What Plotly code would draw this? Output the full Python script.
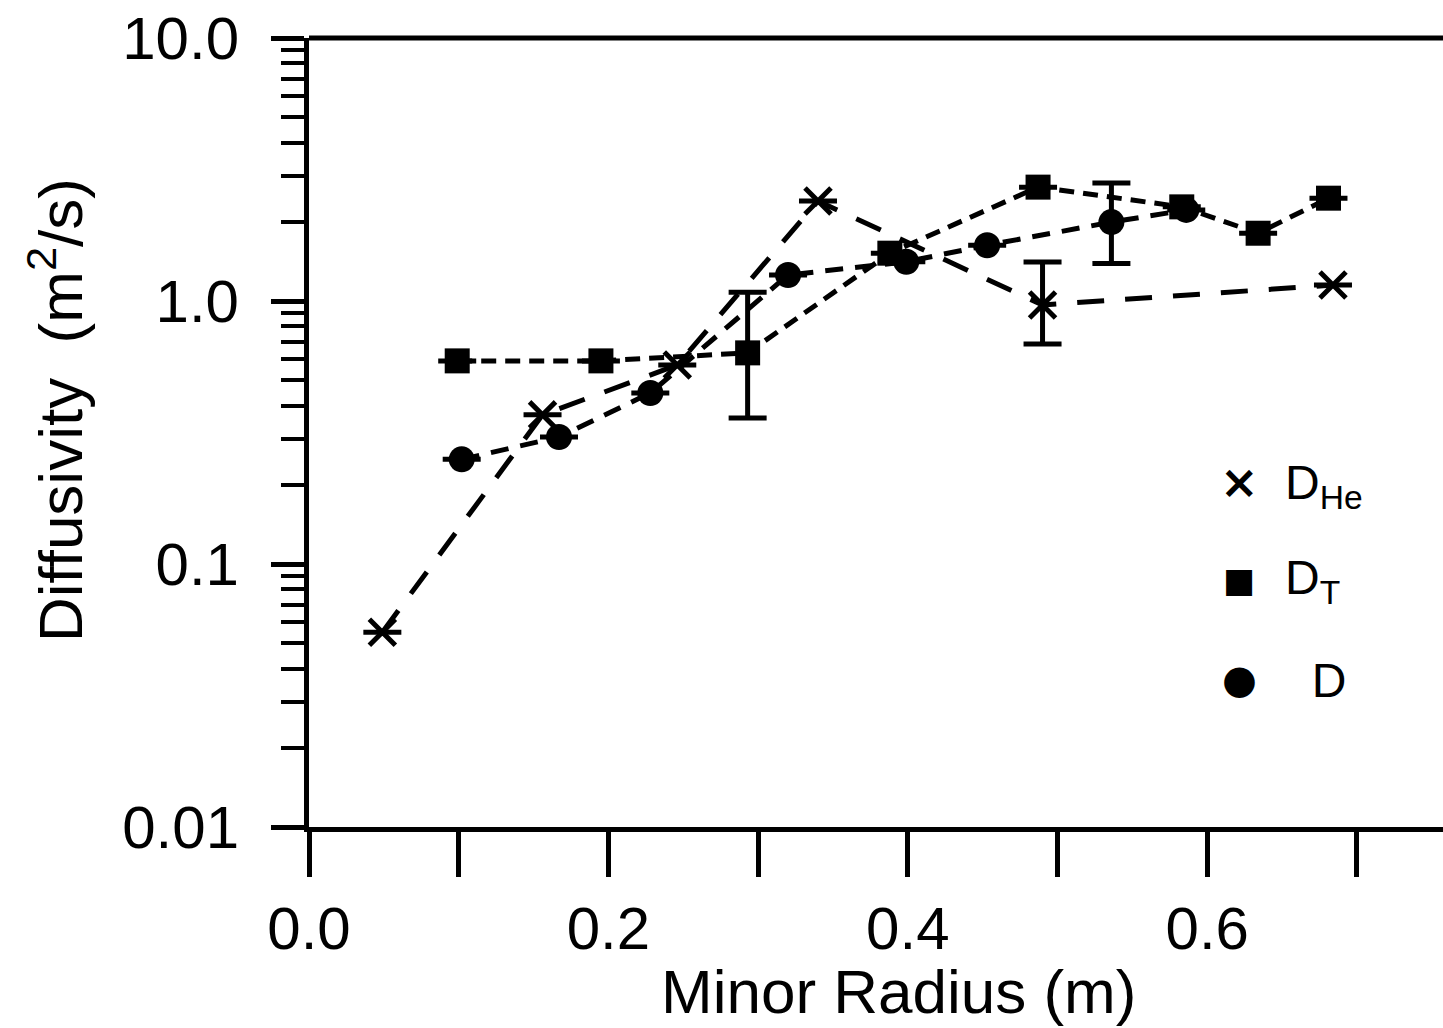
import plotly.graph_objects as go

# ---- data ----
he_r = [0.049, 0.156, 0.246, 0.340, 0.490, 0.684]
he_d = [0.055, 0.369, 0.571, 2.40, 0.966, 1.15]
he_err_plus = [None, None, None, None, 0.44, None]
he_err_minus = [None, None, None, None, 0.28, None]

t_r = [0.099, 0.195, 0.293, 0.388, 0.487, 0.583, 0.634, 0.681]
t_d = [0.592, 0.592, 0.635, 1.52, 2.71, 2.28, 1.81, 2.46]
t_err_plus = [None, None, 0.445, None, None, None, None, None]
t_err_minus = [None, None, 0.276, None, None, None, None, None]

d_r = [0.102, 0.167, 0.228, 0.320, 0.399, 0.453, 0.536, 0.586]
d_d = [0.25, 0.304, 0.447, 1.256, 1.41, 1.63, 1.995, 2.22]
d_err_plus = [None, None, None, None, None, None, 0.815, None]
d_err_minus = [None, None, None, None, None, None, 0.605, None]

x_ticks = [0.0, 0.1, 0.2, 0.3, 0.4, 0.5, 0.6, 0.7]
x_ticktext = ["0.0", "", "0.2", "", "0.4", "", "0.6", ""]
y_ticks = [0.01, 0.1, 1, 10]
y_ticktext = ["0.01", "0.1", "1.0", "10.0"]

legend_keys = ["<b>\u00d7</b>", "\u25a0", "\u25cf"]
legend_labels = ["D<sub>He</sub>", "D<sub>T</sub>", "\u00a0\u00a0D"]

FONT = "Liberation Sans, Arial, Helvetica, sans-serif"
W, H = 1443, 1028
L, R, T, B = 309, 0, 38, 201
PW, PH = W - L - R, H - T - B

def px_x(p):
    return (p - L) / PW

def px_y(p):
    return (H - B - p) / PH

def err(plus, minus):
    return dict(type="data", symmetric=False, array=plus, arrayminus=minus,
                color="black", thickness=5, width=19, visible=True)

fig = go.Figure()
fig.add_trace(go.Scatter(
    x=he_r, y=he_d, mode="lines+markers", name="D<sub>He</sub>",
    line=dict(color="black", width=5, dash="27px,21px"),
    marker=dict(symbol="x-thin", size=26, line=dict(color="black", width=5), color="black"),
    error_y=err(he_err_plus, he_err_minus)))
fig.add_trace(go.Scatter(
    x=t_r, y=t_d, mode="lines+markers", name="D<sub>T</sub>",
    line=dict(color="black", width=5, dash="15px,9px"),
    marker=dict(symbol="square", size=25, color="black"),
    error_y=err(t_err_plus, t_err_minus)))
fig.add_trace(go.Scatter(
    x=d_r, y=d_d, mode="lines+markers", name="D",
    line=dict(color="black", width=5, dash="18px,12px"),
    marker=dict(symbol="circle", size=26, color="black"),
    error_y=err(d_err_plus, d_err_minus)))

fig.update_layout(
    width=W, height=H,
    margin=dict(l=L, r=R, t=T, b=B),
    paper_bgcolor="white", plot_bgcolor="white",
    font=dict(family=FONT, color="black", size=58),
    showlegend=False,
    xaxis=dict(range=[0, 0.7575], tickvals=x_ticks, ticktext=x_ticktext,
               showline=True, linecolor="black", linewidth=5,
               ticks="outside", ticklen=45, tickwidth=5, tickcolor="black",
               showgrid=False, zeroline=False,
               tickfont=dict(size=60, family=FONT), ticklabelstandoff=0),
    yaxis=dict(type="log", range=[-2, 1], tickvals=y_ticks, ticktext=y_ticktext,
               showline=True, linecolor="black", linewidth=5,
               ticks="outside", ticklen=33, tickwidth=5, tickcolor="black",
               showgrid=False, zeroline=False,
               tickfont=dict(size=60, family=FONT), ticklabelstandoff=20,
               minor=dict(dtick="D1", ticks="outside", ticklen=23, tickwidth=4,
                          tickcolor="black", showgrid=False)),
)

# top frame line
fig.add_shape(type="line", xref="paper", yref="paper", x0=0, x1=1, y0=1, y1=1,
              line=dict(color="black", width=5))

# legend (keys + labels)
key_pos = [(1239, 482, 46), (1239, 580, 34), (1239, 679, 40)]
lab_pos = [(1283, 486), (1283, 581), (1283, 680)]
for k, lab, (kx, ky, ks), (lx, ly) in zip(legend_keys, legend_labels, key_pos, lab_pos):
    fig.add_annotation(text=k, xref="paper", yref="paper", x=px_x(kx), y=px_y(ky),
                       xanchor="center", yanchor="middle", showarrow=False,
                       font=dict(size=ks, family="DejaVu Sans"))
    fig.add_annotation(text=lab, xref="paper", yref="paper", x=px_x(lx), y=px_y(ly),
                       xanchor="left", yanchor="middle", showarrow=False,
                       font=dict(size=48, family=FONT))

# axis titles
fig.add_annotation(text="Minor Radius (m)", xref="paper", yref="paper",
                   x=px_x(898), y=px_y(992),
                   xanchor="center", yanchor="middle", showarrow=False,
                   font=dict(size=62, family=FONT))
fig.add_annotation(text="Diffusivity\u00a0\u00a0(m<sup>2</sup>/s)", xref="paper", yref="paper",
                   x=px_x(56), y=px_y(410),
                   xanchor="center", yanchor="middle", showarrow=False, textangle=-90,
                   font=dict(size=62, family=FONT))

fig.write_html("out.html")
